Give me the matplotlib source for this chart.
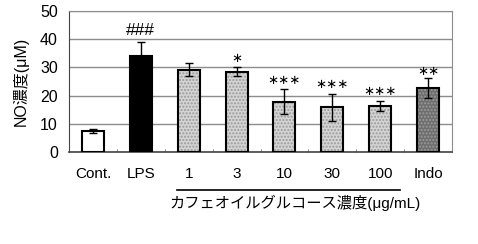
import matplotlib.pyplot as plt

plt.rcParams['font.family'] = ['Liberation Sans', 'Noto Sans CJK JP']

labels = ['Cont.', 'LPS', '1', '3', '10', '30', '100', 'Indo']
means = [7.4, 34.0, 29.1, 28.5, 17.8, 15.8, 16.3, 22.8]
errs = [0.7, 5.0, 2.3, 1.5, 4.4, 4.8, 1.8, 3.6]
marks = ['', '###', '', '*', '***', '***', '***', '**']
fills = ['white', 'black', '#d4d4d4', '#d4d4d4', '#d4d4d4', '#d4d4d4', '#d4d4d4', '#6e6e6e']
hatches = ['', '', '.....', '.....', '.....', '.....', '.....', '.....']

fig = plt.figure(figsize=(4.78, 2.44), dpi=100)
ax = fig.add_axes([69 / 478, 1 - 152 / 244, 383 / 478, 141 / 244])

x = list(range(len(labels)))
for i in x:
    ax.bar(i, means[i], width=0.46, color=fills[i], edgecolor='#9a9a9a', hatch=hatches[i], linewidth=0, zorder=3)
    ax.bar(i, means[i], width=0.46, fill=False, edgecolor='black', linewidth=1.5, zorder=4)
ax.errorbar(x, means, yerr=errs, fmt='none', ecolor='black', elinewidth=1, capsize=3, capthick=1, zorder=5)

for i in x:
    if marks[i] == '###':
        ax.text(i, means[i] + errs[i] + 1.5, marks[i], ha='center', va='bottom', fontsize=12.5, zorder=6)
    elif marks[i]:
        off = 2.0 if labels[i] == 'Indo' else 3.3
        ax.text(i, means[i] + errs[i] + off, marks[i].replace('*', '\u2217'), ha='center', va='center',
                fontsize=9.5, family=['DejaVu Sans'], zorder=6)

ax.set_xlim(-0.5, 7.5)
ax.set_ylim(0, 50)
ax.set_yticks([0, 10, 20, 30, 40, 50])
ax.yaxis.grid(True, color='#8c8c8c', linewidth=1)
ax.set_axisbelow(True)
ax.set_xticks(x)
ax.set_xticklabels(labels, fontsize=11)
ax.tick_params(axis='x', length=0, pad=11)
ax.tick_params(axis='y', length=0, labelsize=11.5, pad=8)
ax.set_xticks([i + 0.5 for i in x[:-1]], minor=True)
ax.tick_params(axis='x', which='minor', direction='in', length=2.5, color='#777777')
for s in ['top', 'right']:
    ax.spines[s].set_color('#8c8c8c')
ax.spines['left'].set_color('#444444')
ax.spines['bottom'].set_color('#444444')
ax.spines['bottom'].set_linewidth(1.2)

ax.set_ylabel('NO濃度(μM)', fontsize=11.5, labelpad=8)

fig.add_artist(plt.Line2D([177 / 478, 400 / 478], [1 - 190 / 244, 1 - 190 / 244], color='black', linewidth=1.2))
fig.text(295 / 478, 1 - 203 / 244, 'カフェオイルグルコース濃度(μg/mL)', ha='center', va='center', fontsize=11)

fig.savefig('out.png', dpi=100)
